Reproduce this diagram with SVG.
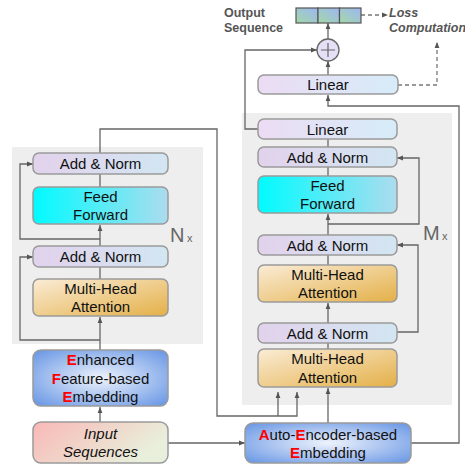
<svg xmlns="http://www.w3.org/2000/svg" width="465" height="468" viewBox="0 0 465 468">
<defs>
<style>
.box{stroke:#9a9a9a;stroke-width:1.5}
.t{font-family:"Liberation Sans",Arial,sans-serif;font-size:15px;fill:#111;text-anchor:middle}
.r{fill:#ff0000;font-weight:bold}
.c{fill:none;stroke:#666;stroke-width:1.3}
.d{fill:none;stroke:#777;stroke-width:1.3;stroke-dasharray:4 3}
.bg{fill:#eeeeee}
.lbl{font-family:"Liberation Sans",Arial,sans-serif;font-size:12.5px;font-weight:bold;fill:#555}
.mult{font-family:"Liberation Sans",Arial,sans-serif;fill:#666}
</style>
<linearGradient id="gAN" x1="0" y1="0" x2="1" y2="0"><stop offset="0" stop-color="#e2d2ec"/><stop offset="1" stop-color="#d2e6f2"/></linearGradient>
<linearGradient id="gLin" x1="0" y1="0" x2="1" y2="0"><stop offset="0" stop-color="#ecdcf4"/><stop offset="1" stop-color="#d6ecf8"/></linearGradient>
<linearGradient id="gFF" x1="0" y1="0" x2="1" y2="0"><stop offset="0" stop-color="#00fbff"/><stop offset="1" stop-color="#acdcee"/></linearGradient>
<linearGradient id="gMHA" x1="0" y1="0" x2="1" y2="1"><stop offset="0" stop-color="#faecd6"/><stop offset="1" stop-color="#e4b048"/></linearGradient>
<radialGradient id="gEmb" cx="0.5" cy="0.5" r="0.7"><stop offset="0" stop-color="#eef3fc"/><stop offset="1" stop-color="#6594e4"/></radialGradient>
<linearGradient id="gIn" x1="0" y1="0" x2="1" y2="0.4"><stop offset="0" stop-color="#f9b8b6"/><stop offset="1" stop-color="#e8f0dc"/></linearGradient>
<linearGradient id="gOut" x1="0" y1="1" x2="1" y2="0"><stop offset="0" stop-color="#a4d8a8"/><stop offset="1" stop-color="#9cb6f2"/></linearGradient>
<marker id="ar" viewBox="0 0 10 10" refX="10" refY="5" markerWidth="6" markerHeight="6" markerUnits="userSpaceOnUse" orient="auto"><path d="M0,1 L10,5 L0,9 z" fill="#555"/></marker>
</defs>

<rect class="bg" x="12" y="147" width="191" height="197"/>
<rect class="bg" x="242" y="113" width="210" height="292"/>

<g id="connectors">
<path class="c" d="M100,350 V317" marker-end="url(#ar)"/>
<path class="c" d="M100,340 H20 V257 H33" marker-end="url(#ar)"/>
<path class="c" d="M100,279 V267"/>
<path class="c" d="M100,246 V225" marker-end="url(#ar)"/>
<path class="c" d="M100,239 H20 V164 H33" marker-end="url(#ar)"/>
<path class="c" d="M100,187 V174"/>
<path class="c" d="M100,153 V129 H217 V416 H297 V392" marker-end="url(#ar)"/>
<path class="c" d="M278,416 V392" marker-end="url(#ar)"/>
<path class="c" d="M100,422 V407" marker-end="url(#ar)"/>
<path class="c" d="M168,443 H245" marker-end="url(#ar)"/>
<path class="c" d="M328,423 V388" marker-end="url(#ar)"/>
<path class="c" d="M411,443 H459 V106 H328 V95" marker-end="url(#ar)"/>
<path class="c" d="M328,349 V343"/>
<path class="c" d="M328,323 V303" marker-end="url(#ar)"/>
<path class="c" d="M328,265 V255"/>
<path class="c" d="M328,235 V214" marker-end="url(#ar)"/>
<path class="c" d="M328,176 V167"/>
<path class="c" d="M328,147 V139"/>
<path class="c" d="M328,224 H419 V158 H397" marker-end="url(#ar)"/>
<path class="c" d="M397,332 H418 V245 H397" marker-end="url(#ar)"/>
<path class="c" d="M258,129 H245 V50 H317" marker-end="url(#ar)"/>
<path class="c" d="M328,75 V61" marker-end="url(#ar)"/>
<path class="c" d="M328,39 V23" marker-end="url(#ar)"/>
<path class="d" d="M361,15 H388" marker-end="url(#ar)"/>
<path class="d" d="M398,85 H437 V42" marker-end="url(#ar)"/>
</g>

<text class="mult" x="170" y="242" font-size="20">N</text>
<text class="mult" x="187" y="242" font-size="11">x</text>
<text class="mult" x="423" y="240" font-size="20">M</text>
<text class="mult" x="442" y="240" font-size="11">x</text>

<g id="enc-addnorm2">
<rect class="box" x="33" y="153" width="135" height="21" rx="6" fill="url(#gAN)"/>
<text class="t" x="100.5" y="169">Add &amp; Norm</text>
</g>
<g id="enc-ff">
<rect class="box" x="33" y="187" width="135" height="37" rx="6" fill="url(#gFF)"/>
<text class="t" x="100.5" y="202">Feed</text>
<text class="t" x="100.5" y="220">Forward</text>
</g>
<g id="enc-addnorm1">
<rect class="box" x="33" y="246" width="135" height="21" rx="6" fill="url(#gAN)"/>
<text class="t" x="100.5" y="262">Add &amp; Norm</text>
</g>
<g id="enc-mha">
<rect class="box" x="33" y="279" width="135" height="37" rx="6" fill="url(#gMHA)"/>
<text class="t" x="100.5" y="294">Multi-Head</text>
<text class="t" x="100.5" y="312">Attention</text>
</g>
<g id="efe">
<rect class="box" x="33" y="350" width="135" height="56" rx="8" fill="url(#gEmb)"/>
<text class="t" x="100.5" y="365"><tspan class="r">E</tspan>nhanced</text>
<text class="t" x="100.5" y="384"><tspan class="r">F</tspan>eature-based</text>
<text class="t" x="100.5" y="402"><tspan class="r">E</tspan>mbedding</text>
</g>
<g id="input">
<rect class="box" x="33" y="422" width="135" height="41" rx="8" fill="url(#gIn)"/>
<text class="t" x="100.5" y="439" font-style="italic">Input</text>
<text class="t" x="100.5" y="457" font-style="italic">Sequences</text>
</g>
<g id="aee">
<rect class="box" x="245" y="423" width="166" height="40" rx="8" fill="url(#gEmb)"/>
<text class="t" x="328" y="440"><tspan class="r">A</tspan>uto-<tspan class="r">E</tspan>ncoder-based</text>
<text class="t" x="328" y="458"><tspan class="r">E</tspan>mbedding</text>
</g>

<g id="dec-mha1">
<rect class="box" x="258" y="349" width="139" height="38" rx="6" fill="url(#gMHA)"/>
<text class="t" x="327.5" y="364">Multi-Head</text>
<text class="t" x="327.5" y="383">Attention</text>
</g>
<g id="dec-addnorm1">
<rect class="box" x="258" y="323" width="139" height="20" rx="6" fill="url(#gAN)"/>
<text class="t" x="327.5" y="338.5">Add &amp; Norm</text>
</g>
<g id="dec-mha2">
<rect class="box" x="258" y="265" width="139" height="37" rx="6" fill="url(#gMHA)"/>
<text class="t" x="327.5" y="280">Multi-Head</text>
<text class="t" x="327.5" y="298">Attention</text>
</g>
<g id="dec-addnorm2">
<rect class="box" x="258" y="235" width="139" height="20" rx="6" fill="url(#gAN)"/>
<text class="t" x="327.5" y="250.5">Add &amp; Norm</text>
</g>
<g id="dec-ff">
<rect class="box" x="258" y="176" width="139" height="37" rx="6" fill="url(#gFF)"/>
<text class="t" x="327.5" y="191">Feed</text>
<text class="t" x="327.5" y="209">Forward</text>
</g>
<g id="dec-addnorm3">
<rect class="box" x="258" y="147" width="139" height="20" rx="6" fill="url(#gAN)"/>
<text class="t" x="327.5" y="162.5">Add &amp; Norm</text>
</g>
<g id="dec-linear">
<rect class="box" x="258" y="119" width="139" height="20" rx="6" fill="url(#gLin)"/>
<text class="t" x="327.5" y="134.5">Linear</text>
</g>
<g id="top-linear">
<rect class="box" x="258" y="75" width="140" height="19" rx="6" fill="url(#gLin)"/>
<text class="t" x="328" y="90">Linear</text>
</g>
<g id="plus">
<circle cx="328" cy="50" r="11" fill="#e6e0f6" stroke="#666" stroke-width="1.3"/>
<path d="M321,50 H335 M328,43 V57" stroke="#666" stroke-width="1.2"/>
</g>
<g id="output-seq">
<rect x="296" y="8" width="22" height="15" fill="url(#gOut)" stroke="#555" stroke-width="1.2"/>
<rect x="318" y="8" width="21.5" height="15" fill="url(#gOut)" stroke="#555" stroke-width="1.2"/>
<rect x="339.5" y="8" width="21.5" height="15" fill="url(#gOut)" stroke="#555" stroke-width="1.2"/>
<text class="lbl" x="224" y="17">Output</text>
<text class="lbl" x="224" y="32">Sequence</text>
</g>
<g id="loss">
<text class="lbl" x="389" y="17" font-style="italic">Loss</text>
<text class="lbl" x="389" y="32" font-style="italic">Computation</text>
</g>
</svg>
